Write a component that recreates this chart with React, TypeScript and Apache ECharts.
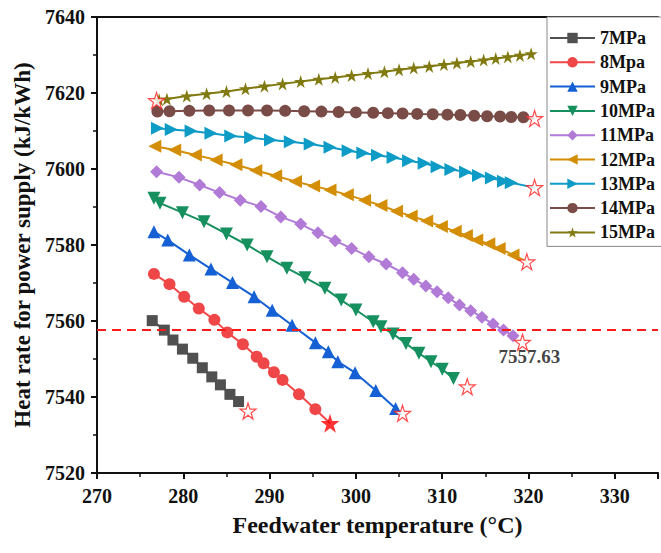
import React, { useEffect, useRef } from "react";
import * as echarts from "echarts";

const NAMES = ["7MPa", "8Mpa", "9MPa", "10MPa", "11MPa", "12MPa", "13MPa", "14MPa", "15MPa"];

const T7 = [276.4, 277.8, 278.8, 279.9, 281.1, 282.2, 283.3, 284.3, 285.4, 286.4];
const H7 = [7560.1, 7557.6, 7555.0, 7552.6, 7550.2, 7547.7, 7545.3, 7543.2, 7540.7, 7538.8];

const T8 = [276.6, 278.4, 280.1, 281.8, 283.6, 285.1, 286.9, 288.5, 289.3, 290.5, 291.5, 293.4, 295.3];
const H8 = [7572.4, 7569.7, 7566.4, 7563.3, 7560.3, 7557.0, 7553.9, 7550.6, 7548.9, 7546.5, 7544.5, 7540.7, 7536.8];

const T9 = [276.6, 278.2, 280.7, 283.2, 285.7, 288.2, 290.3, 292.6, 295.3, 296.8, 297.9, 299.9, 302.3, 304.6];
const H9 = [7583.5, 7581.3, 7577.4, 7573.7, 7570.1, 7566.4, 7562.8, 7558.9, 7554.3, 7551.9, 7549.3, 7546.4, 7541.7, 7537.0];

const T10 = [276.6, 277.3, 279.9, 282.4, 285.0, 287.4, 289.7, 292.0, 294.1, 296.4, 298.3, 300.0, 302.0, 302.9, 304.3, 305.8, 307.3, 308.7, 310.0, 311.3];
const H10 = [7592.3, 7591.0, 7588.5, 7586.1, 7582.9, 7580.0, 7576.9, 7573.9, 7571.4, 7568.6, 7565.5, 7562.9, 7559.8, 7558.5, 7556.6, 7554.1, 7551.5, 7549.3, 7547.3, 7544.9];

const T11 = [276.9, 279.5, 281.9, 284.2, 286.6, 289.0, 291.3, 293.6, 295.6, 297.6, 299.5, 301.5, 303.5, 305.4, 306.7, 308.1, 309.4, 310.7, 312.0, 313.3, 314.6, 315.9, 317.1, 318.2];
const H11 = [7599.3, 7597.8, 7595.8, 7593.8, 7591.8, 7590.1, 7587.4, 7585.5, 7583.2, 7581.1, 7579.1, 7576.9, 7575.0, 7572.7, 7571.0, 7569.2, 7567.7, 7566.1, 7564.2, 7562.7, 7561.0, 7559.2, 7557.6, 7556.1];

const T12 = [276.7, 279.0, 281.4, 283.8, 286.1, 288.4, 290.7, 293.0, 295.1, 297.0, 299.0, 301.0, 302.9, 304.7, 306.4, 308.2, 309.9, 311.5, 312.8, 314.0, 315.4, 316.6, 318.2];
const H12 = [7606.0, 7605.0, 7603.7, 7602.4, 7601.1, 7599.6, 7598.2, 7596.7, 7595.5, 7594.5, 7593.2, 7591.8, 7590.4, 7588.9, 7587.6, 7586.3, 7584.9, 7583.6, 7582.5, 7581.3, 7580.3, 7579.1, 7577.4];

const T13 = [277.0, 278.6, 280.9, 283.2, 285.5, 287.8, 290.1, 292.4, 294.7, 297.0, 299.1, 300.8, 302.5, 304.3, 306.1, 307.9, 309.4, 311.0, 312.7, 314.2, 315.7, 317.1, 318.0];
const H13 = [7610.7, 7610.4, 7610.0, 7609.4, 7608.7, 7608.3, 7607.6, 7607.2, 7606.6, 7605.7, 7604.8, 7604.2, 7603.6, 7603.0, 7602.2, 7601.5, 7600.6, 7599.9, 7599.2, 7598.3, 7597.6, 7596.8, 7596.4];

const T14 = [277.0, 278.4, 280.7, 283.0, 285.3, 287.5, 289.7, 291.8, 294.0, 296.0, 298.0, 300.0, 302.0, 303.7, 305.4, 307.1, 308.9, 310.6, 312.1, 313.7, 315.2, 316.7, 318.0, 319.4];
const H14 = [7615.1, 7615.2, 7615.3, 7615.4, 7615.4, 7615.4, 7615.4, 7615.3, 7615.2, 7615.1, 7615.0, 7614.9, 7614.8, 7614.7, 7614.6, 7614.5, 7614.4, 7614.3, 7614.2, 7614.0, 7613.9, 7613.8, 7613.7, 7613.6];

const T15 = [277.2, 278.1, 280.4, 282.7, 285.0, 287.2, 289.4, 291.5, 293.6, 295.7, 297.6, 299.5, 301.4, 303.3, 305.0, 306.7, 308.5, 310.2, 311.7, 313.3, 314.8, 316.2, 317.6, 319.0, 320.3];
const H15 = [7618.2, 7618.4, 7619.2, 7619.8, 7620.4, 7621.1, 7621.8, 7622.4, 7623.0, 7623.6, 7624.1, 7624.6, 7625.1, 7625.6, 7626.1, 7626.6, 7627.0, 7627.5, 7627.9, 7628.3, 7628.7, 7629.1, 7629.5, 7629.9, 7630.3];

// hollow red stars marking series ends (7,9,10,11,12,13,14 MPa end; 15 MPa start)
const STAR_T = [287.5, 305.4, 312.9, 319.3, 319.8, 320.7, 320.7, 276.9];
const STAR_H = [7536.3, 7535.7, 7542.7, 7554.4, 7575.6, 7595.1, 7613.3, 7618.0];
// optimum (filled red star, 8 MPa end)
const OPT_T = 297.0;
const OPT_H = 7533.1;

const REF_VALUE = 7557.63;
const REF_LABEL_T = 320.1;

const X_TICKS = [270, 280, 290, 300, 310, 320, 330];
const Y_TICKS = [7520, 7540, 7560, 7580, 7600, 7620, 7640];

const COLORS = ["#505050", "#EF4747", "#1560D4", "#16905E", "#B07AD6", "#D48E06", "#0E9CC6", "#7A4C47", "#817A10"];

const STAR = "path://M50,0L61.2,34.5L97.6,34.5L68.2,55.9L79.4,90.5L50,69.1L20.6,90.5L31.8,55.9L2.4,34.5L38.8,34.5Z";
const FONT = "'Liberation Serif', 'Times New Roman', serif";

export default function App() {
  const ref = useRef<HTMLDivElement>(null);
  useEffect(() => {
    if (!ref.current) return;
    const chart = echarts.init(ref.current, undefined, { renderer: "svg" });

    const SERIES_T = [T7, T8, T9, T10, T11, T12, T13, T14, T15];
    const SERIES_H = [H7, H8, H9, H10, H11, H12, H13, H14, H15];
    const symbols = ["rect", "circle", "triangle", "triangle", "diamond", "triangle", "triangle", "circle", STAR];
    const rotates = [0, 0, 0, 180, 0, 90, -90, 0, 0];
    const sizes = [11, 12, 13, 13, 13, 13, 13, 12, 13];
    // end-point extension (line continues to the star)
    const ends: (number[] | null)[] = [null, [OPT_T, OPT_H], null, null, null, [STAR_T[4], STAR_H[4]], [STAR_T[5], STAR_H[5]], [STAR_T[6], STAR_H[6]], null];

    const lineSeries: any[] = NAMES.map((name, i) => {
      const data: any[] = SERIES_T[i].map((t, j) => [t, SERIES_H[i][j]]);
      const e = ends[i];
      if (e) data.push({ value: e, symbol: "none" });
      return {
        name,
        type: "line",
        data,
        symbol: symbols[i],
        symbolSize: sizes[i],
        symbolRotate: rotates[i],
        showAllSymbol: true,
        color: COLORS[i],
        lineStyle: { width: 2, color: COLORS[i] },
        itemStyle: { color: COLORS[i] },
        z: 3,
      };
    });

    const option: any = {
      animation: false,
      backgroundColor: "#ffffff",
      textStyle: { fontFamily: FONT },
      grid: { left: 97, top: 17, right: 0, bottom: 80 },
      legend: {
        data: NAMES,
        orient: "vertical",
        left: 547,
        top: 17,
        padding: [12, 30, 5, 2],
        itemWidth: 45,
        itemHeight: 13,
        itemGap: 6.3,
        borderColor: "#888888",
        borderWidth: 1,
        backgroundColor: "#ffffff",
        textStyle: { fontFamily: FONT, fontWeight: "bold", fontSize: 18, color: "#111" },
      },
      xAxis: [
        {
          type: "value",
          min: 270,
          max: 335,
          interval: 10,
          name: "Feedwater temperature (\u00B0C)",
          nameLocation: "middle",
          nameGap: 40,
          nameTextStyle: { fontFamily: FONT, fontWeight: "bold", fontSize: 24, color: "#111" },
          axisLine: { show: true, onZero: false, lineStyle: { color: "#111", width: 2 } },
          axisTick: { show: true, inside: false, length: 6, lineStyle: { color: "#111", width: 2 } },
          minorTick: { show: true, splitNumber: 2, length: 4, lineStyle: { color: "#111", width: 1.5 } },
          splitLine: { show: false },
          axisLabel: {
            margin: 13,
            fontFamily: FONT,
            fontWeight: "bold",
            fontSize: 20,
            color: "#111",
            formatter: (v: number) => (X_TICKS.includes(v) ? String(v) : ""),
          },
        },
        {
          type: "value",
          position: "top",
          min: 270,
          max: 335,
          axisLine: { show: true, onZero: false, lineStyle: { color: "#111", width: 2 } },
          axisTick: { show: false },
          axisLabel: { show: false },
          splitLine: { show: false },
        },
      ],
      yAxis: {
        type: "value",
        min: 7520,
        max: 7640,
        interval: 20,
        name: "Heat rate for power supply (kJ/kWh)",
        nameLocation: "middle",
        nameGap: 62,
        nameTextStyle: { fontFamily: FONT, fontWeight: "bold", fontSize: 23, color: "#111" },
        axisLine: { show: true, onZero: false, lineStyle: { color: "#111", width: 2 } },
        axisTick: { show: true, inside: false, length: 6, lineStyle: { color: "#111", width: 2 } },
        minorTick: { show: true, splitNumber: 2, length: 4, lineStyle: { color: "#111", width: 1.5 } },
        splitLine: { show: false },
        axisLabel: {
          margin: 12,
          fontFamily: FONT,
          fontWeight: "bold",
          fontSize: 20,
          color: "#111",
          formatter: (v: number) => (Y_TICKS.includes(v) ? String(v) : ""),
        },
      },
      series: [
        {
          type: "line",
          data: [],
          markLine: {
            silent: true,
            symbol: "none",
            label: { show: false },
            lineStyle: { color: "#FF1A1A", width: 2, type: [9, 6] },
            data: [{ yAxis: REF_VALUE }],
          },
          z: 2,
        },
        ...lineSeries,
        {
          type: "scatter",
          data: STAR_T.map((t, i) => [t, STAR_H[i]]),
          symbol: STAR,
          symbolSize: 16,
          itemStyle: { color: "#ffffff", borderColor: "#FF2020", borderWidth: 1.2 },
          z: 5,
        },
        {
          type: "scatter",
          data: [[OPT_T, OPT_H]],
          symbol: STAR,
          symbolSize: 19,
          itemStyle: { color: "#FF0000" },
          z: 5,
        },
        {
          type: "scatter",
          data: [[REF_LABEL_T, REF_VALUE]],
          symbolSize: 0,
          label: {
            show: true,
            position: "bottom",
            distance: 17,
            formatter: String(REF_VALUE),
            fontFamily: FONT,
            fontWeight: "bold",
            fontSize: 19,
            color: "#111",
          },
          z: 4,
        },
      ],
    };
    chart.setOption(option);
    return () => chart.dispose();
  }, []);
  return <div ref={ref} style={{ position: "fixed", left: 0, top: 0, width: 661, height: 553, background: "#fff" }} />;
}
